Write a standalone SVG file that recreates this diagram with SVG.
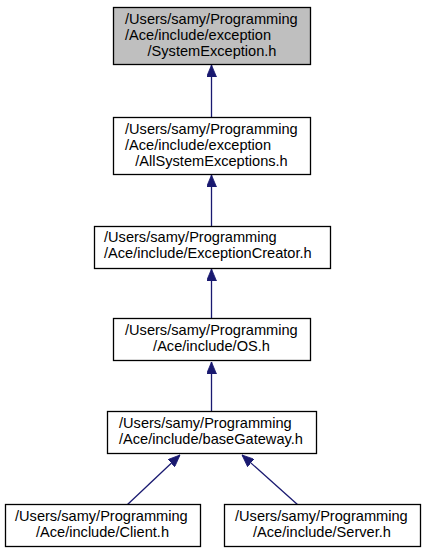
<svg xmlns="http://www.w3.org/2000/svg" width="425" height="555" viewBox="0 0 425 555">
<style>
.box{fill:#ffffff;stroke:#000000;stroke-width:1.3}
.root{fill:#bfbfbf}
text{font-family:"Liberation Sans",Arial,Helvetica,sans-serif;font-size:14.6px;fill:#000000}
.c{text-anchor:middle}
.edge{stroke:#191970;stroke-width:1.3;fill:none;marker-end:url(#ah)}
</style>
<defs>
<marker id="ah" markerUnits="userSpaceOnUse" viewBox="0 0 12 10" refX="12" refY="5" markerWidth="12" markerHeight="10" orient="auto">
<path d="M0,0 L12,5 L0,10 z" fill="#191970" stroke="#191970" stroke-width="0.8"/>
</marker>
</defs>
<rect width="425" height="555" fill="#ffffff"/>
<g id="connectors">
<line class="edge" x1="211.5" y1="117" x2="211.5" y2="65"/>
<line class="edge" x1="211.5" y1="226" x2="211.5" y2="175"/>
<line class="edge" x1="211.5" y1="318" x2="211.5" y2="269"/>
<line class="edge" x1="211.5" y1="411" x2="211.5" y2="362"/>
<line class="edge" x1="127" y1="505" x2="180" y2="455"/>
<line class="edge" x1="298" y1="505" x2="242" y2="455"/>
</g>
<g id="SystemException">
<rect class="box root" x="113.5" y="7.5" width="197" height="57"/>
<text x="125" y="24">/Users/samy/Programming</text>
<text x="125" y="40">/Ace/include/exception</text>
<text class="c" x="212" y="56">/SystemException.h</text>
</g>
<g id="AllSystemExceptions">
<rect class="box" x="113.5" y="117.5" width="197" height="57"/>
<text x="125" y="134">/Users/samy/Programming</text>
<text x="125" y="150">/Ace/include/exception</text>
<text class="c" x="211.5" y="166">/AllSystemExceptions.h</text>
</g>
<g id="ExceptionCreator">
<rect class="box" x="94.5" y="226.5" width="236" height="42"/>
<text x="104" y="242">/Users/samy/Programming</text>
<text x="104" y="258">/Ace/include/ExceptionCreator.h</text>
</g>
<g id="OS">
<rect class="box" x="113.5" y="318.5" width="197" height="42"/>
<text x="125" y="335">/Users/samy/Programming</text>
<text class="c" x="211.5" y="351">/Ace/include/OS.h</text>
</g>
<g id="baseGateway">
<rect class="box" x="107.5" y="411.5" width="209" height="42"/>
<text x="119" y="428">/Users/samy/Programming</text>
<text x="119" y="444">/Ace/include/baseGateway.h</text>
</g>
<g id="Client">
<rect class="box" x="5.5" y="504.5" width="195" height="42"/>
<text x="15" y="521">/Users/samy/Programming</text>
<text class="c" x="102.5" y="537">/Ace/include/Client.h</text>
</g>
<g id="Server">
<rect class="box" x="224.5" y="504.5" width="196" height="42"/>
<text x="235" y="521">/Users/samy/Programming</text>
<text class="c" x="322" y="537">/Ace/include/Server.h</text>
</g>
</svg>
